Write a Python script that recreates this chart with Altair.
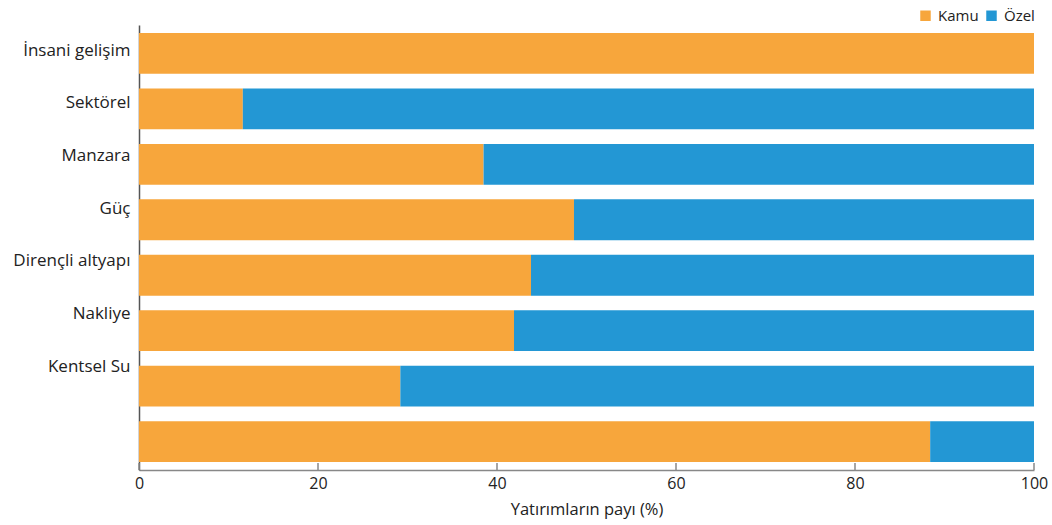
import altair as alt
import pandas as pd

categories = ["İnsani gelişim", "Sektörel", "Manzara", "Güç", "Dirençli altyapı",
              "Nakliye", "Kentsel Su", " "]
kamu = [100.0, 11.6, 38.5, 48.6, 43.8, 41.9, 29.2, 88.4]
ozel = [0.0, 88.4, 61.5, 51.4, 56.2, 58.1, 70.8, 11.6]
series = ["Kamu", "Özel"]
colors = ["#F7A63C", "#2397D4"]
x_ticks = [0, 20, 40, 60, 80, 100]

rows = []
for c, k, o in zip(categories, kamu, ozel):
    rows.append({"cat": c, "tür": "Kamu", "pay": k, "ord": 0})
    rows.append({"cat": c, "tür": "Özel", "pay": o, "ord": 1})
df = pd.DataFrame(rows)
cat_df = pd.DataFrame({"cat": categories})
tick_df = pd.DataFrame({"t": x_ticks})

FONT = "Open Sans"
W, H = 895, 445

xscale = alt.Scale(domain=[0, 100], nice=False, zero=True)

bars = alt.Chart(df).mark_bar().encode(
    y=alt.Y("cat:N", sort=categories, axis=None,
            scale=alt.Scale(paddingInner=0.264, paddingOuter=0.144)),
    x=alt.X("pay:Q", stack="zero", scale=xscale,
            axis=alt.Axis(values=x_ticks, title="Yatırımların payı (%)", ticks=False,
                          grid=False, domainColor="#888888", domainWidth=1.5,
                          labelFlush=False, labelFont=FONT, labelFontSize=16,
                          labelColor="#222222", labelPadding=5, titleFont=FONT,
                          titleFontSize=16.5, titleFontWeight="normal",
                          titleColor="#222222", titlePadding=10)),
    color=alt.Color("tür:N", scale=alt.Scale(domain=series, range=colors),
                    legend=alt.Legend(title=None, orient="none", direction="horizontal",
                                      legendX=779, legendY=-17, symbolType="square",
                                      symbolSize=110, symbolStrokeWidth=0,
                                      labelFont=FONT, labelFontSize=15,
                                      labelColor="#222222", columnPadding=5,
                                      labelOffset=5)),
    order=alt.Order("ord:Q"),
)

labels = alt.Chart(cat_df).mark_point(opacity=0).encode(
    y=alt.Y("cat:N", sort=categories,
            scale=alt.Scale(type="point", padding=0.72, align=0.33),
            axis=alt.Axis(title=None, ticks=False, domainColor="#555555", domainWidth=1.5,
                          labelFont=FONT, labelFontSize=17, labelColor="#222222",
                          labelPadding=9, labelLimit=200)),
)

ticks = alt.Chart(tick_df).mark_rule(color="#888888", strokeWidth=1.5).encode(
    x=alt.X("t:Q", scale=xscale),
    y=alt.value(H - 7),
    y2=alt.value(H),
)

chart = alt.layer(labels, bars, ticks).resolve_scale(y="independent").properties(
    width=W, height=H,
    autosize=alt.AutoSizeParams(type="none"),
    padding={"left": 139, "top": 25, "right": 18, "bottom": 55},
).configure_view(stroke=None)

chart.save("out.html", embed_options={"renderer": "svg", "actions": False})
